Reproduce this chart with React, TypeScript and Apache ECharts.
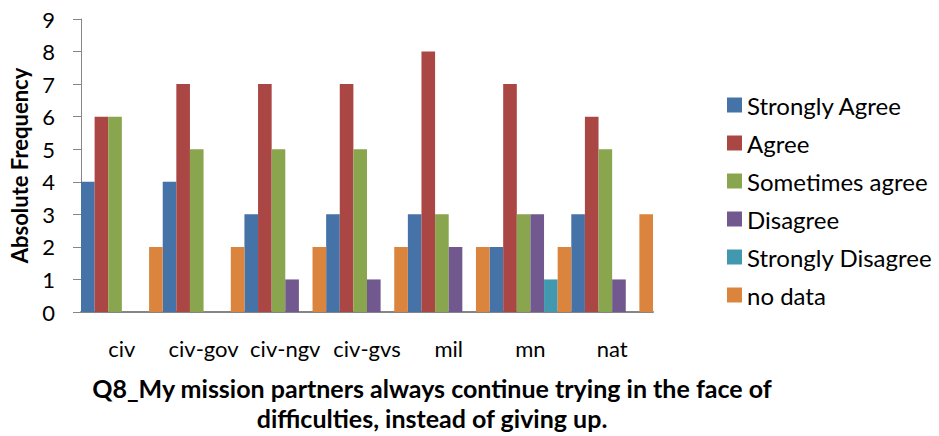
import React, { useEffect, useRef } from "react";
import * as echarts from "echarts";

const categories = ["civ", "civ-gov", "civ-ngv", "civ-gvs", "mil", "mn", "nat"];
const seriesNames = ["Strongly Agree", "Agree", "Sometimes agree", "Disagree", "Strongly Disagree", "no data"];
const stronglyAgree = [4, 4, 3, 3, 3, 2, 3];
const agree = [6, 7, 7, 7, 8, 7, 6];
const sometimesAgree = [6, 5, 5, 5, 3, 3, 5];
const disagree = [0, 0, 1, 1, 2, 3, 1];
const stronglyDisagree = [0, 0, 0, 0, 0, 1, 0];
const noData = [2, 2, 2, 2, 2, 2, 3];
const colors = ["#4572A7", "#AA4643", "#89A54E", "#71588F", "#4198AF", "#DB843D"];
const titleLines = ["Q8_My mission partners always continue trying in the face of", "difficulties, instead of giving up."];

const FONT = "Lato, 'Open Sans', sans-serif";

export default function App() {
  const ref = useRef<HTMLDivElement>(null);
  useEffect(() => {
    if (!ref.current) return;
    const chart = echarts.init(ref.current, null, { renderer: "svg" });
    const allData = [stronglyAgree, agree, sometimesAgree, disagree, stronglyDisagree, noData];
    chart.setOption({
      animation: false,
      textStyle: { fontFamily: FONT },
      title: {
        text: titleLines.join("\n"),
        left: 432,
        top: 373,
        padding: 0,
        textAlign: "center",
        textStyle: { fontFamily: FONT, fontSize: 25, fontWeight: "bold", color: "#000", lineHeight: 30 },
      },
      legend: {
        orient: "vertical",
        left: 722,
        top: 88,
        itemWidth: 15,
        itemHeight: 15,
        itemGap: 14,
        icon: "rect",
        textStyle: { fontFamily: FONT, fontSize: 24, color: "#000", lineHeight: 24 },
        data: seriesNames,
      },
      grid: { left: 80, right: 286, top: 19, bottom: 124, containLabel: false },
      xAxis: {
        type: "category",
        data: categories,
        axisLine: { lineStyle: { color: "#868686", width: 2 } },
        axisTick: { show: false },
        axisLabel: { fontFamily: FONT, fontSize: 22, color: "#000", margin: 25, interval: 0 },
      },
      yAxis: {
        type: "value",
        min: 0,
        max: 9,
        interval: 1,
        name: "Absolute Frequency",
        nameLocation: "middle",
        nameGap: 51,
        nameTextStyle: { fontFamily: FONT, fontSize: 22, fontWeight: "bold", color: "#000" },
        axisLine: { show: true, lineStyle: { color: "#868686", width: 1 } },
        axisTick: { show: true, length: 8, lineStyle: { color: "#868686" } },
        splitLine: { show: false },
        axisLabel: { fontFamily: FONT, fontSize: 22, color: "#000", margin: 26 },
      },
      series: seriesNames.map((name, i) => ({
        name,
        type: "bar",
        data: allData[i],
        barGap: "0%",
        barCategoryGap: "0%",
        itemStyle: { color: colors[i] },
      })),
    });
    return () => chart.dispose();
  }, []);
  return (
    <div
      ref={ref}
      style={{ position: "absolute", left: 0, top: 0, width: 939, height: 436, background: "#fff" }}
    />
  );
}
